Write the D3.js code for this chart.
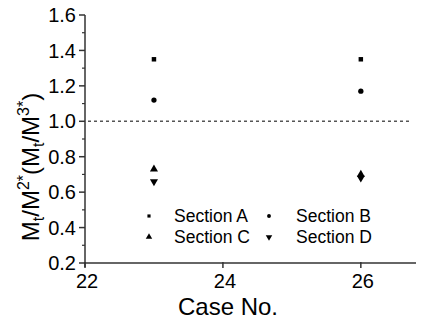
<!DOCTYPE html>
<html><head><meta charset="utf-8">
<script src="https://cdn.jsdelivr.net/npm/d3@7"></script>
<style>body{margin:0;background:#fff}svg{display:block}text{font-family:"Liberation Sans",Arial,sans-serif;fill:#000}</style>
</head><body><svg id="c" width="423" height="322"></svg>
<script>
const cases = [23, 26];
const sectionA = [1.35, 1.35];
const sectionB = [1.12, 1.17];
const sectionC = [0.73, 0.70];
const sectionD = [0.66, 0.68];
const xTicks = [22, 24, 26];
const yTicks = [0.2, 0.4, 0.6, 0.8, 1.0, 1.2, 1.4, 1.6];
const refValue = 1.0;

const svg = d3.select("#c");
const x = d3.scaleLinear().domain([22, 26.8]).range([85, 416]);
const y = d3.scaleLinear().domain([0.2, 1.6]).range([263, 15]);
const axisColor = "#333";

// y axis
const gy = svg.append("g").attr("transform", "translate(85,0)");
gy.append("line").attr("y1", y(1.6)).attr("y2", y(0.2) + 4).attr("stroke", axisColor).attr("stroke-width", 1.5);
gy.selectAll(".minor").data(d3.range(0.3, 1.6, 0.2)).join("line")
  .attr("x1", -3).attr("x2", 0).attr("y1", d => y(d)).attr("y2", d => y(d)).attr("stroke", axisColor).attr("stroke-width", 1.2);
gy.selectAll(".major").data(yTicks).join("line")
  .attr("x1", -6).attr("x2", 0).attr("y1", d => y(d)).attr("y2", d => y(d)).attr("stroke", axisColor).attr("stroke-width", 1.5);
gy.selectAll("text").data(yTicks).join("text")
  .attr("x", -9).attr("y", d => y(d)).attr("dy", "0.36em").attr("text-anchor", "end")
  .attr("font-size", 20).text(d => d.toFixed(1));

// x axis
const gx = svg.append("g").attr("transform", "translate(0,263)");
gx.append("line").attr("x1", x(22)).attr("x2", x(26.8)).attr("stroke", axisColor).attr("stroke-width", 1.5);
gx.selectAll(".t").data(xTicks).join("line")
  .attr("x1", d => x(d)).attr("x2", d => x(d)).attr("y1", -1).attr("y2", 5).attr("stroke", axisColor).attr("stroke-width", 1.5);
gx.selectAll("text").data(xTicks).join("text")
  .attr("x", d => x(d) + 2).attr("y", 25).attr("text-anchor", "middle").attr("font-size", 20).text(d => d);

svg.append("text").attr("x", 228).attr("y", 315).attr("text-anchor", "middle").attr("font-size", 24).text("Case No.");

// y title
const yt = svg.append("text").attr("transform", "translate(39,167) rotate(-90)").attr("text-anchor", "middle").attr("font-size", 24);
const parts = [["M",""],["t","sub"],["/M",""],["2*","sup"],["(M",""],["t","sub"],["/M",""],["3*","sup"],[")",""]];
let cur = 0;
parts.forEach(([t, k]) => {
  const s = yt.append("tspan").text(t);
  const target = k === "sub" ? 5 : (k === "sup" ? -10 : 0);
  if (k) s.attr("font-size", 16);
  s.attr("dy", target - cur);
  cur = target;
});

// reference line
svg.append("line").attr("x1", x(22) + 3).attr("x2", x(26.8) - 7).attr("y1", y(refValue)).attr("y2", y(refValue))
  .attr("stroke", "#555").attr("stroke-width", 1.6).attr("stroke-dasharray", "3,3");

const typeOf = {A: d3.symbolSquare, B: d3.symbolCircle, C: d3.symbolTriangle, D: d3.symbolTriangle};
const sizeOf = {A: 20, B: 22, C: 28, D: 28};
function plot(vals, key, rot) {
  svg.append("g").selectAll("path").data(vals).join("path")
    .attr("d", d3.symbol().type(typeOf[key]).size(sizeOf[key])).attr("fill", "#000")
    .attr("transform", (d, i) => `translate(${x(cases[i])},${y(d)})` + (rot ? " rotate(180)" : ""));
}
plot(sectionA, "A", false);
plot(sectionB, "B", false);
plot(sectionC, "C", false);
plot(sectionD, "D", true);

// legend
const legend = [
  {name: "Section A", key: "A", sx: 149, tx: 174, cy: 216, rot: false, size: 10},
  {name: "Section B", key: "B", sx: 269, tx: 296, cy: 216, rot: false, size: 12},
  {name: "Section C", key: "C", sx: 149, tx: 174, cy: 237, rot: false, size: 18},
  {name: "Section D", key: "D", sx: 269, tx: 296, cy: 237, rot: true, size: 18}
];
legend.forEach(l => {
  svg.append("path").attr("d", d3.symbol().type(typeOf[l.key]).size(l.size)())
    .attr("transform", `translate(${l.sx},${l.cy})` + (l.rot ? " rotate(180)" : "")).attr("fill", "#000");
  svg.append("text").attr("x", l.tx).attr("y", l.cy).attr("dy", "0.36em").attr("font-size", 17.5).text(l.name);
});
</script></body></html>
